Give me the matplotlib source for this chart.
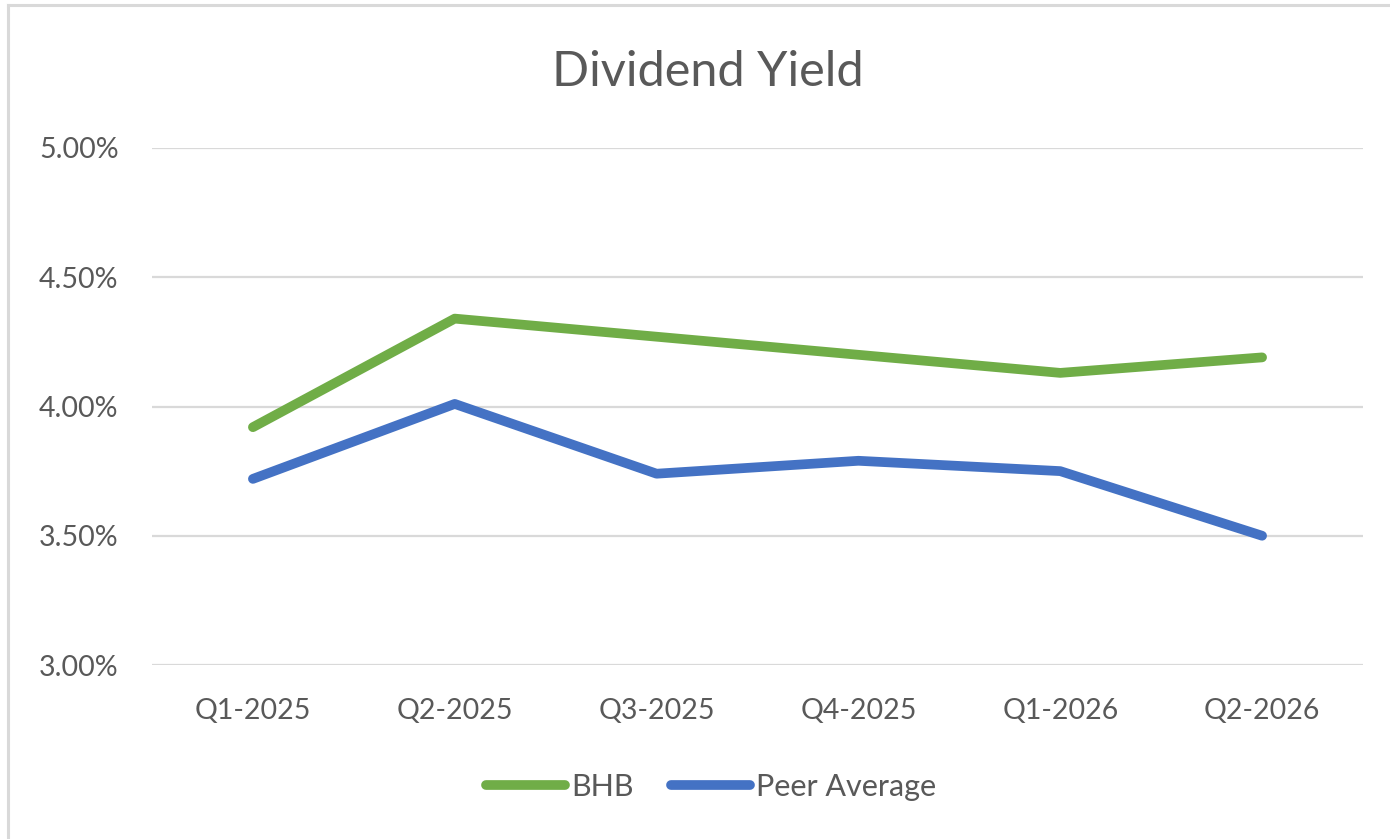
import matplotlib.pyplot as plt
from matplotlib.lines import Line2D
from matplotlib.ticker import FuncFormatter

# chart data (percent)
quarters = ["Q1-2025", "Q2-2025", "Q3-2025", "Q4-2025", "Q1-2026", "Q2-2026"]
bhb = [3.92, 4.34, 4.27, 4.20, 4.13, 4.19]
peer_avg = [3.72, 4.01, 3.74, 3.79, 3.75, 3.50]
y_ticks = [3.0, 3.5, 4.0, 4.5, 5.0]

text_color = "#595959"
plt.rcParams['font.family'] = ['Lato', 'DejaVu Sans']

fig = plt.figure(figsize=(13.9, 8.39), dpi=100)
ax = fig.add_axes([152 / 1390, 1 - 665 / 839, (1363 - 152) / 1390, (665 - 148) / 839])

x = range(len(quarters))
ax.plot(x, bhb, color="#70AD47", lw=7, solid_capstyle="round", solid_joinstyle="round", label="BHB", zorder=3)
ax.plot(x, peer_avg, color="#4472C4", lw=7, solid_capstyle="round", solid_joinstyle="round", label="Peer Average", zorder=3)

ax.set_xlim(-0.5, len(quarters) - 0.5)
ax.set_ylim(3.0, 5.0)
ax.set_yticks(y_ticks)
ax.yaxis.set_major_formatter(FuncFormatter(lambda v, p: "{:.2f}%".format(v)))
ax.set_xticks(list(x))
ax.set_xticklabels(quarters)

ax.grid(axis="y", color="#D9D9D9", lw=1.6)
ax.set_axisbelow(True)
for s in ax.spines.values():
    s.set_visible(False)
ax.tick_params(length=0, labelsize=20.5, colors=text_color)
ax.tick_params(axis="y", pad=24)
ax.tick_params(axis="x", pad=24)

fig.text(708 / 1390, 1 - 72 / 839, "Dividend Yield", ha="center", va="center", fontsize=35, color=text_color)

leg = fig.legend(loc="center", bbox_to_anchor=(711 / 1390, 1 - 787 / 839), ncol=2, frameon=False,
                 fontsize=22, handlelength=2.6, handletextpad=0.2, columnspacing=1.2)
for t in leg.get_texts():
    t.set_color(text_color)

# outer chart border (left and top visible)
fig.add_artist(Line2D([7.5 / 1390, 7.5 / 1390], [0, 1 - 4.5 / 839], color="#D9D9D9", lw=2.2))
fig.add_artist(Line2D([7.5 / 1390, 1], [1 - 4.5 / 839, 1 - 4.5 / 839], color="#D9D9D9", lw=2.2))

fig.savefig("out.png", dpi=100)
